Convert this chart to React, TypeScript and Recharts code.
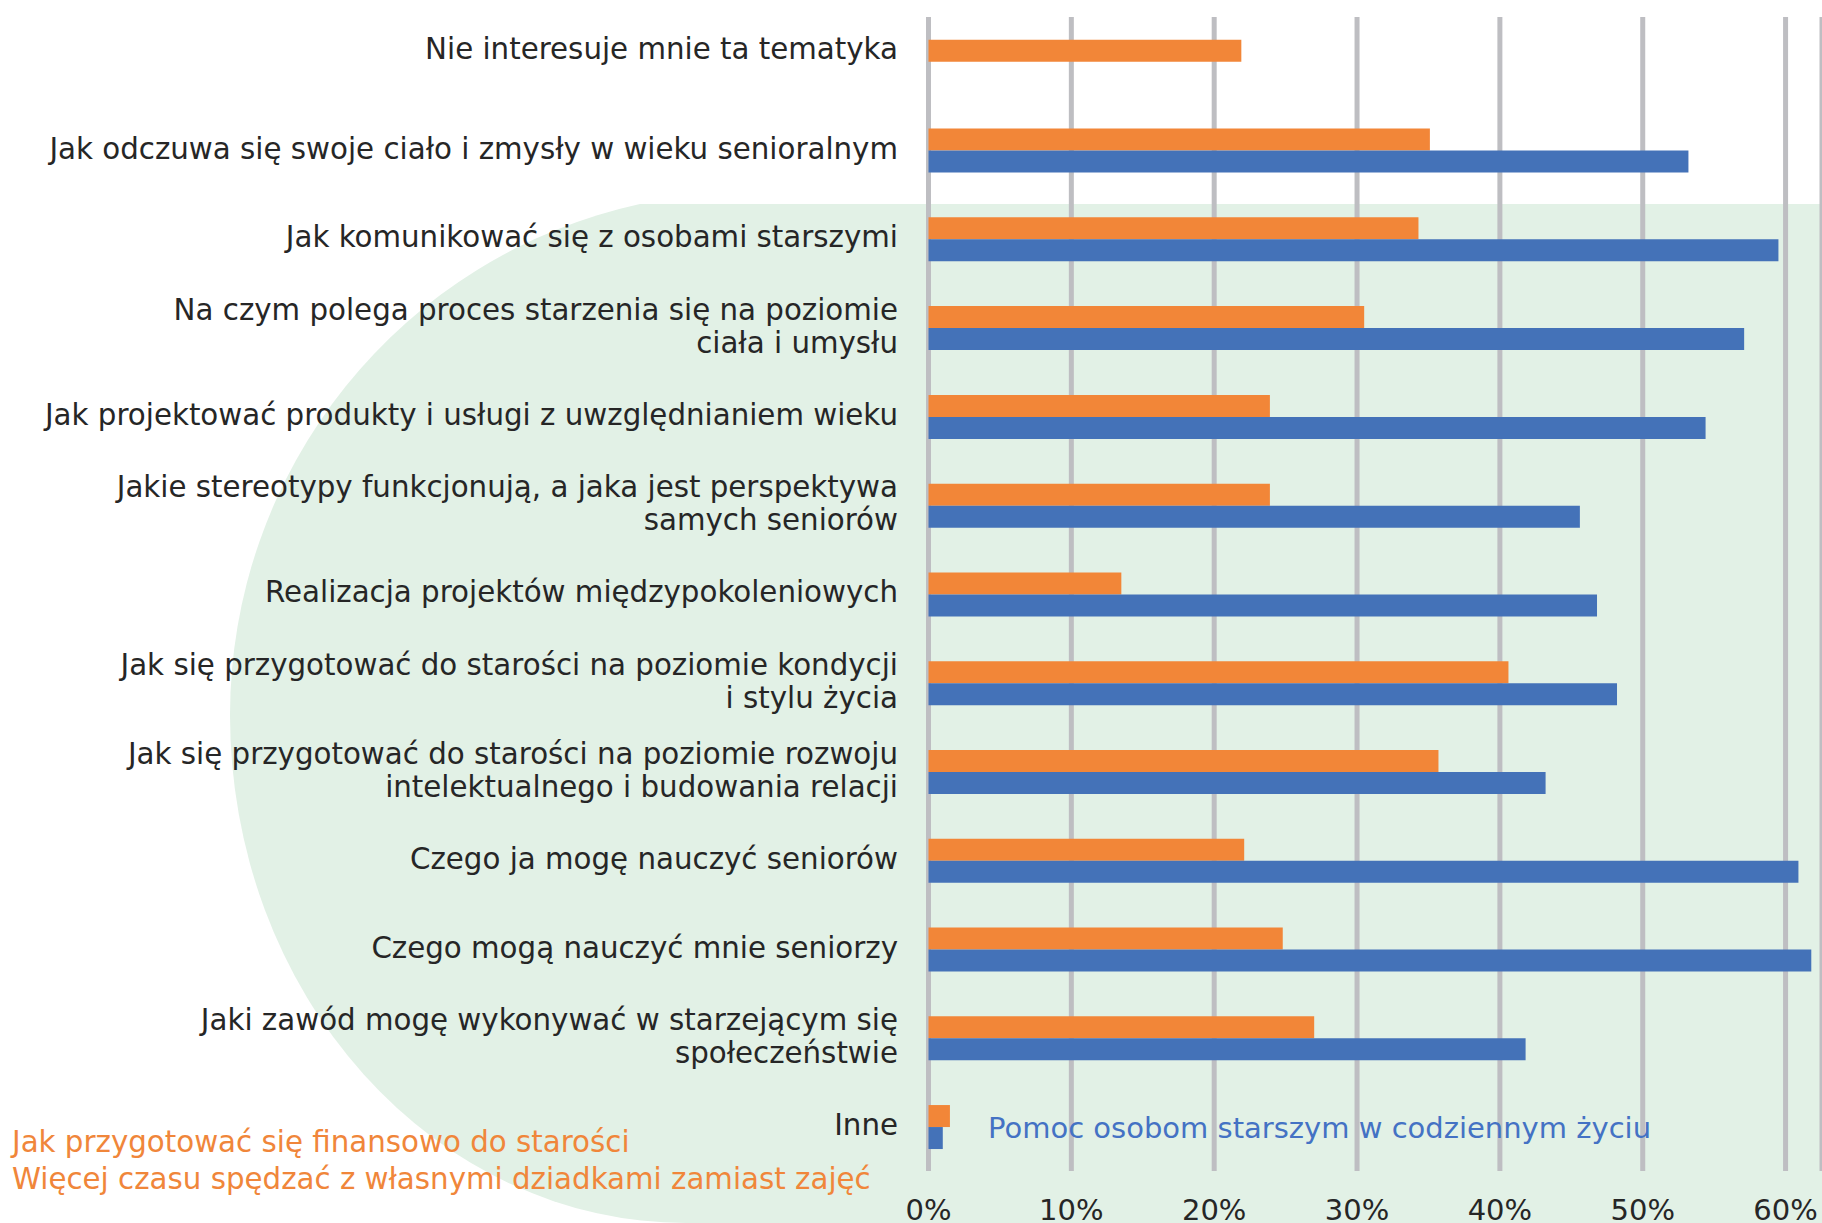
import React from 'react';
import { BarChart, Bar, XAxis, YAxis, CartesianGrid } from 'recharts';

const categories = [
  'Nie interesuje mnie ta tematyka',
  'Jak odczuwa się swoje ciało i zmysły w wieku senioralnym',
  'Jak komunikować się z osobami starszymi',
  'Na czym polega proces starzenia się na poziomie\nciała i umysłu',
  'Jak projektować produkty i usługi z uwzględnianiem wieku',
  'Jakie stereotypy funkcjonują, a jaka jest perspektywa\nsamych seniorów',
  'Realizacja projektów międzypokoleniowych',
  'Jak się przygotować do starości na poziomie kondycji\ni stylu życia',
  'Jak się przygotować do starości na poziomie rozwoju\nintelektualnego i budowania relacji',
  'Czego ja mogę nauczyć seniorów',
  'Czego mogą nauczyć mnie seniorzy',
  'Jaki zawód mogę wykonywać w starzejącym się\nspołeczeństwie',
  'Inne',
];

const orangeValues = [21.9, 35.1, 34.3, 30.5, 23.9, 23.9, 13.5, 40.6, 35.7, 22.1, 24.8, 27.0, 1.5];
const blueValues = [0, 53.2, 59.5, 57.1, 54.4, 45.6, 46.8, 48.2, 43.2, 60.9, 61.8, 41.8, 1.0];

const xTicks = [0, 10, 20, 30, 40, 50, 60];

const orangeLegend = [
  'Jak przygotować się finansowo do starości',
  'Więcej czasu spędzać z własnymi dziadkami zamiast zajęć',
];
const blueLegend = 'Pomoc osobom starszym w codziennym życiu';

const ORANGE = '#F28638';
const BLUE = '#4472B8';
const TEXT = '#262626';
const FONT = 'DejaVu Sans';
const LABEL_SIZE = 29.3;

const data = categories.map((name, i) => ({
  name,
  orange: orangeValues[i],
  blue: blueValues[i],
}));

const CategoryTick = (props: any) => {
  const { x, y, payload, index } = props;
  const lines = String(payload.value).split('\n');
  const lh = 33;
  const row = data[index];
  // a row whose second bar is empty is labelled at the middle of its one bar
  const shift = row && !row.blue ? -10.8 : 0;
  const start = -((lines.length - 1) * lh) / 2 + shift;
  return (
    <text x={x} y={y} textAnchor="end" fill={TEXT} fontSize={LABEL_SIZE} fontFamily={FONT}>
      {lines.map((l: string, i: number) => (
        <tspan key={i} x={x} y={y + start + i * lh} dy="0.29em">
          {l}
        </tspan>
      ))}
    </text>
  );
};

const greenPath =
  'M 1822 204 L 640 204 A 520 523 0 0 0 230 715 A 456 508 0 0 0 686 1223 L 1822 1223 Z';

export default function App() {
  return (
    <div
      style={{
        position: 'absolute',
        left: 0,
        top: 0,
        width: 1822,
        height: 1223,
        background: '#ffffff',
        overflow: 'hidden',
      }}
    >
      <svg style={{ position: 'absolute', left: 0, top: 0 }} width={1822} height={1223}>
        <path d={greenPath} fill="#E2F1E6" />
      </svg>
      <div style={{ position: 'absolute', left: 0, top: 0 }}>
        <BarChart
          layout="vertical"
          width={1822}
          height={1223}
          data={data}
          margin={{ top: 17, right: 0, bottom: 0, left: 0 }}
          barCategoryGap="25.7%"
          barGap={0}
        >
          <CartesianGrid horizontal={false} stroke="#BEBEC2" strokeWidth={5} />
          <XAxis
            type="number"
            domain={[0, 62.55]}
            ticks={xTicks}
            interval={0}
            tickFormatter={(v: number) => `${v}%`}
            axisLine={false}
            tickLine={false}
            tickSize={0}
            tickMargin={28}
            height={52}
            tick={{ fill: TEXT, fontSize: 29, fontFamily: FONT }}
          />
          <YAxis
            type="category"
            dataKey="name"
            width={928.5}
            interval={0}
            axisLine={false}
            tickLine={false}
            tickSize={0}
            tickMargin={30.5}
            tick={(p: any) => <CategoryTick {...p} />}
          />
          <Bar dataKey="orange" fill={ORANGE} isAnimationActive={false} />
          <Bar dataKey="blue" fill={BLUE} isAnimationActive={false} />
        </BarChart>
      </div>
      <svg style={{ position: 'absolute', left: 0, top: 0, pointerEvents: 'none' }} width={1822} height={1223}>
        <text x={988} y={1138} fill="#4472C4" fontSize={29} fontFamily={FONT}>
          {blueLegend}
        </text>
        {orangeLegend.map((t, i) => (
          <text key={i} x={12} y={1152 + i * 37} fill="#F0863A" fontSize={LABEL_SIZE} fontFamily={FONT}>
            {t}
          </text>
        ))}
      </svg>
    </div>
  );
}
